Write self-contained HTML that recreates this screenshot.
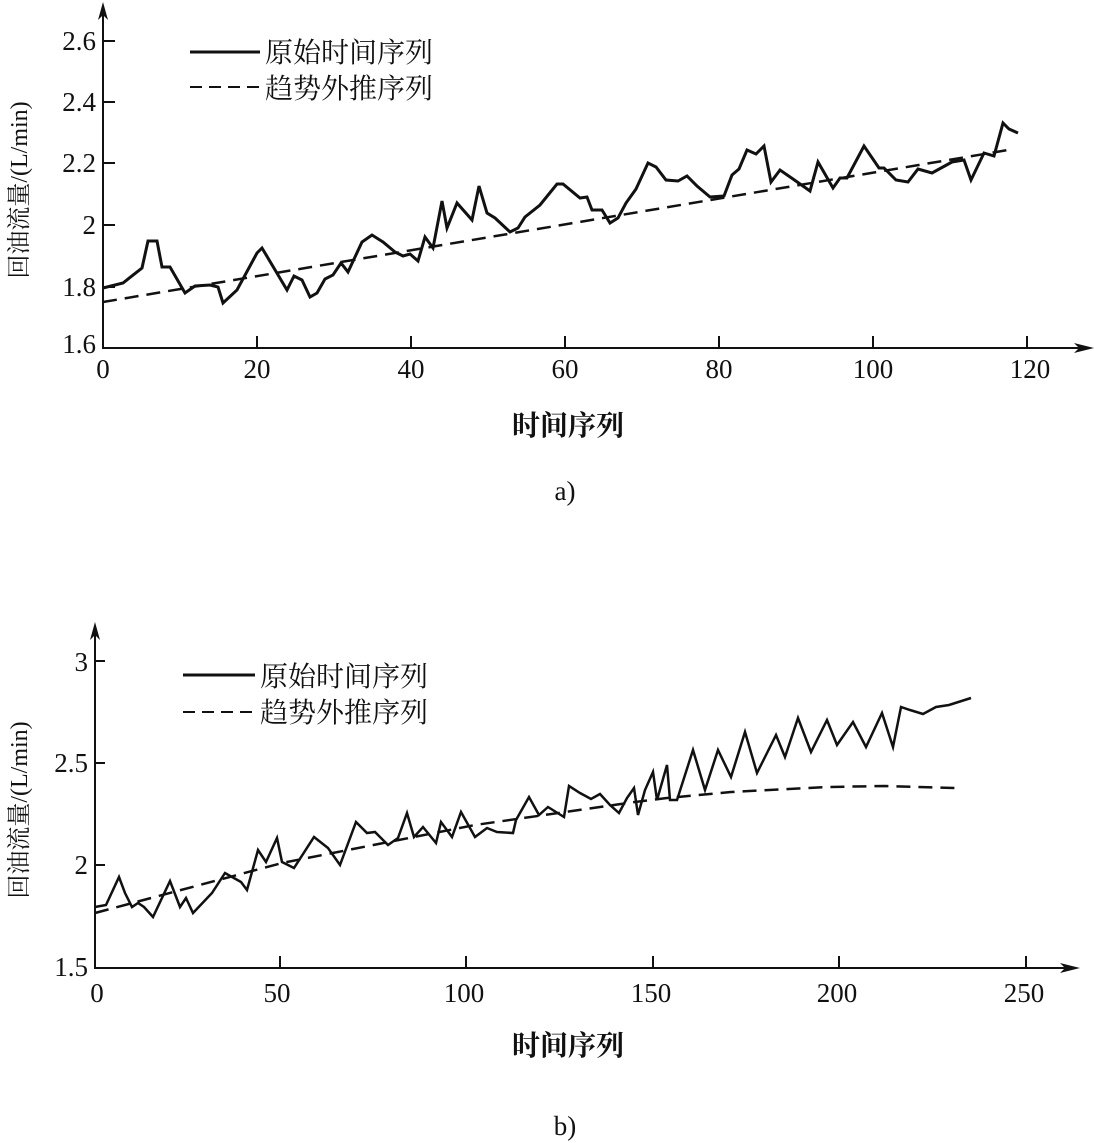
<!DOCTYPE html>
<html><head><meta charset="utf-8"><style>
body{margin:0;background:#fff}
svg{display:block}
text{font-family:"Liberation Serif","Noto Serif CJK SC",serif;fill:#111}
.c{font-family:"Liberation Serif","Noto Serif CJK SC",serif}
</style></head><body>
<svg width="1094" height="1143" viewBox="0 0 1094 1143" xmlns="http://www.w3.org/2000/svg">
<g stroke="#111" stroke-width="2" fill="none">
<line x1="103" y1="349" x2="103" y2="8"/>
<line x1="103" y1="348" x2="1085" y2="348"/>
<line x1="103" y1="41" x2="115" y2="41"/><line x1="103" y1="102" x2="115" y2="102"/><line x1="103" y1="163" x2="115" y2="163"/><line x1="103" y1="225" x2="115" y2="225"/><line x1="103" y1="287" x2="115" y2="287"/>
<line x1="257" y1="348" x2="257" y2="336"/><line x1="411" y1="348" x2="411" y2="336"/><line x1="565" y1="348" x2="565" y2="336"/><line x1="719" y1="348" x2="719" y2="336"/><line x1="873" y1="348" x2="873" y2="336"/><line x1="1027" y1="348" x2="1027" y2="336"/>
<line x1="95" y1="969" x2="95" y2="628"/>
<line x1="95" y1="968" x2="1070" y2="968"/>
<line x1="95" y1="661" x2="105" y2="661"/><line x1="95" y1="763" x2="105" y2="763"/><line x1="95" y1="865" x2="105" y2="865"/>
<line x1="280" y1="968" x2="280" y2="956"/><line x1="466" y1="968" x2="466" y2="956"/><line x1="653" y1="968" x2="653" y2="956"/><line x1="839" y1="968" x2="839" y2="956"/><line x1="1026" y1="968" x2="1026" y2="956"/>
<line x1="190" y1="52" x2="260" y2="52" stroke-width="3"/>
<line x1="190" y1="87" x2="260" y2="87" stroke-dasharray="12 7"/>
<line x1="183" y1="675" x2="255" y2="675" stroke-width="3"/>
<line x1="183" y1="712" x2="255" y2="712" stroke-dasharray="12 7"/>
<polyline stroke-width="3" points="103,288 123,283 142,268 148,241 157,241 162,267 170,267 185,293 195,286 210,285 218,287 223,303 237,290 257,253 262,248 287,290 294,276 302,280 310,297 317,293 325,279 333,275 341,263 348,272 362,242 372,235 383,242 395,252 403,256 410,254 418,261 425,237 433,248 442,201 447,228 457,203 472,220 479,186 487,213 495,218 510,232 518,228 525,217 540,205 557,184 563,184 580,198 587,197 592,210 602,210 610,223 618,218 626,203 636,189 648,163 656,167 666,180 678,181 687,176 697,186 710,197 724,196 732,175 739,169 747,150 756,154 764,146 771,182 780,170 793,179 810,191 818,162 833,188 840,178 847,178 864,146 879,168 884,168 896,180 908,182 918,169 932,173 952,162 964,160 971,180 984,153 994,156 1003,123 1009,129 1018,133"/>
<line x1="103" y1="302" x2="1014" y2="149" stroke-width="2.5" stroke-dasharray="14 8"/>
<polyline stroke-width="2.5" points="95,907 106,905 119,877 125,893 132,907 138,903 144,907 153,917 170,881 180,907 186,898 193,913 212,893 225,873 241,882 247,890 258,850 266,862 277,838 282,862 294,868 314,837 328,848 340,865 356,822 367,833 375,832 388,845 398,838 407,813 414,837 423,827 436,843 441,822 452,837 461,812 475,837 487,828 497,832 513,833 516,820 529,797 539,815 548,807 564,817 569,786 580,793 591,799 600,794 610,805 619,813 627,798 634,788 638,815 645,790 653,772 657,800 667,765 670,800 677,800 693,750 705,790 718,750 731,777 745,732 757,773 776,735 785,757 798,718 811,752 827,720 837,745 853,722 866,747 882,713 893,747 901,707 910,710 923,714 936,707 949,705 971,698"/>
<polyline stroke-width="2.5" stroke-dasharray="14 8" points="95,913 282,863 475,825 635,802 667,798 731,792 827,787 885,786 955,788"/>
</g>
<g fill="#111">
<polygon points="103,2 98,20 103,15 108,20"/>
<polygon points="1094,348 1074,343 1079,348 1074,353"/>
<polygon points="95,622 90,640 95,635 100,640"/>
<polygon points="1080,968 1060,963 1065,968 1060,973"/>
</g>
<g font-size="27" text-anchor="end">
<text x="96" y="50">2.6</text><text x="96" y="111">2.4</text><text x="96" y="172">2.2</text><text x="96" y="234">2</text><text x="96" y="296">1.8</text><text x="96" y="353">1.6</text>
<text x="88" y="671">3</text><text x="88" y="772">2.5</text><text x="88" y="874">2</text><text x="88" y="976">1.5</text>
</g>
<g font-size="27" text-anchor="middle">
<text x="103" y="378">0</text><text x="257" y="378">20</text><text x="411" y="378">40</text><text x="565" y="378">60</text><text x="719" y="378">80</text><text x="873" y="378">100</text><text x="1030" y="378">120</text>
<text x="97" y="1002">0</text><text x="277" y="1002">50</text><text x="464" y="1002">100</text><text x="651" y="1002">150</text><text x="837" y="1002">200</text><text x="1024" y="1002">250</text>
<text x="565" y="500">a)</text><text x="565" y="1135">b)</text>
</g>
<g font-size="28">
<text class="c" x="265" y="62">原始时间序列</text>
<text class="c" x="265" y="98">趋势外推序列</text>
<text class="c" x="260" y="686">原始时间序列</text>
<text class="c" x="260" y="722">趋势外推序列</text>
<text class="c" x="568" y="435" text-anchor="middle" font-weight="bold">时间序列</text>
<text class="c" x="568" y="1055" text-anchor="middle" font-weight="bold">时间序列</text>
</g>
<g font-size="24">
<text class="c" transform="translate(27,190) rotate(-90)" text-anchor="middle">回油流量/(L/min)</text>
<text class="c" transform="translate(27,810) rotate(-90)" text-anchor="middle">回油流量/(L/min)</text>
</g>
</svg>
</body></html>
